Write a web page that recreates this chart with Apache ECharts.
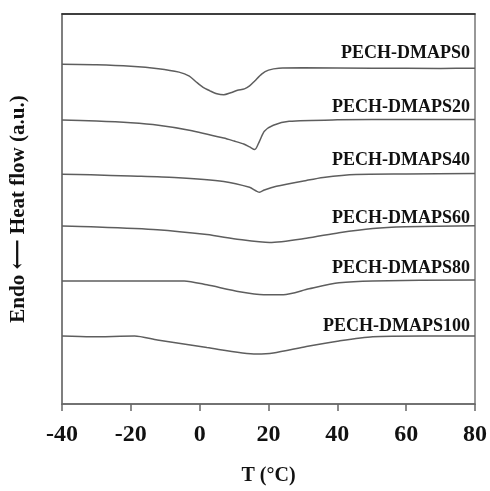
<!DOCTYPE html>
<html>
<head>
<meta charset="utf-8">
<script src="https://cdn.jsdelivr.net/npm/echarts@6/dist/echarts.min.js"></script>
<style>
html,body{margin:0;padding:0;background:#fff;}
#c{width:490px;height:491px;}
</style>
</head>
<body>
<div id="c"></div>
<script>
// Series names (top to bottom)
const seriesNames = ['PECH-DMAPS0','PECH-DMAPS20','PECH-DMAPS40','PECH-DMAPS60','PECH-DMAPS80','PECH-DMAPS100'];
// x tick values
const xTicks = [-40,-20,0,20,40,60,80];
// Curves: [T (°C), heat flow (a.u., vertically offset)]
const dmaps0 = [[-40,345],[-30,344.5],[-20,343],[-12,340.5],[-6,337],[-3,333],[-1,327],[1,321.5],[3,318],[5,315],[7,314],[9,316],[11,318.5],[13,320],[14.5,323],[16,328],[18,335],[20,339],[23,341],[30,341.3],[50,341],[70,340.7],[80,341]];
const dmaps20 = [[-40,288.3],[-30,287.3],[-20,285.5],[-12,283],[-3,278],[7,270],[10,267],[12.8,264],[14.5,261],[16,258.3],[17.4,267],[18.8,277],[21.4,283],[26,287],[40,288.5],[60,289],[80,289]];
const dmaps40 = [[-40,233.3],[-31.6,232.7],[-20,231.5],[-7.4,230],[7,226],[14.5,220],[17.4,215],[18.8,217.3],[22.3,221],[31,227],[35.9,230],[45.4,233],[60,233.5],[80,234]];
const dmaps60 = [[-40,180.7],[-31.6,180],[-12.3,177],[2.1,172],[11.6,167],[20.3,164],[31,168.3],[40.5,174],[50.3,178.3],[59.8,180],[80,181]];
const dmaps80 = [[-40,125],[-31.6,125],[-4.5,125],[2.1,121],[11.6,114],[18.6,111],[24.3,111],[31.8,117],[40.5,123],[50.3,125],[80,126]];
const dmaps100 = [[-40,69],[-31.6,68.3],[-18.9,69],[-12.3,65],[2.1,57.3],[16.5,50.7],[21.4,51.7],[31,58.3],[40.5,64],[50.3,68.3],[65,69],[80,69]];
const curves = [dmaps0, dmaps20, dmaps40, dmaps60, dmaps80, dmaps100];

const FONT = '"Liberation Serif", "Times New Roman", "DejaVu Serif", serif';
const chart = echarts.init(document.getElementById('c'), null, {renderer:'canvas'});

const labelY = [54, 108.5, 161.5, 219, 269, 327.5];

chart.setOption({
  animation:false,
  backgroundColor:'#fff',
  grid:{left:59, right:15, top:14, bottom:81, show:true, borderColor:'#777', borderWidth:1.5},
  xAxis:[{
    type:'value', min:-40, max:80, interval:20,
    name:'T (°C)', nameLocation:'middle', nameGap:62,
    nameTextStyle:{fontFamily:FONT, fontWeight:'bold', fontSize:20, color:'#111'},
    axisLine:{show:true, onZero:false, lineStyle:{color:'#666', width:1.5}},
    axisTick:{show:true, inside:false, length:7, lineStyle:{color:'#666', width:1.5}},
    axisLabel:{fontFamily:FONT, fontWeight:'bold', fontSize:24, color:'#111', margin:19,
      formatter:(v)=> xTicks.includes(v) ? String(v) : ''},
    splitLine:{show:false}
  },{
    type:'value', position:'top', min:-40, max:80,
    axisLine:{show:true, onZero:false, lineStyle:{color:'#222', width:1.5}},
    axisTick:{show:false}, axisLabel:{show:false}, splitLine:{show:false}
  }],
  yAxis:{
    type:'value', min:0, max:396,
    name:'Endo \u27F5 Heat flow (a.u.)', nameLocation:'middle', nameGap:33, nameRotate:90,
    nameTextStyle:{fontFamily:FONT, fontWeight:'bold', fontSize:21, color:'#111'},
    axisLine:{show:true, onZero:false, lineStyle:{color:'#777', width:1.5}},
    axisTick:{show:false}, axisLabel:{show:false}, splitLine:{show:false}
  },
  series: curves.map((d,i)=>({
    name: seriesNames[i], type:'line', data:d, showSymbol:false, smooth:0.25,
    lineStyle:{color:'#5e5e5e', width:1.5}
  })),
  graphic: seriesNames.map((n,i)=>({
    type:'text', right:20, top:labelY[i]-10,
    style:{text:n, fontFamily:FONT, fontWeight:'bold', fontSize:18, fill:'#111'}
  }))
});
</script>
</body>
</html>
